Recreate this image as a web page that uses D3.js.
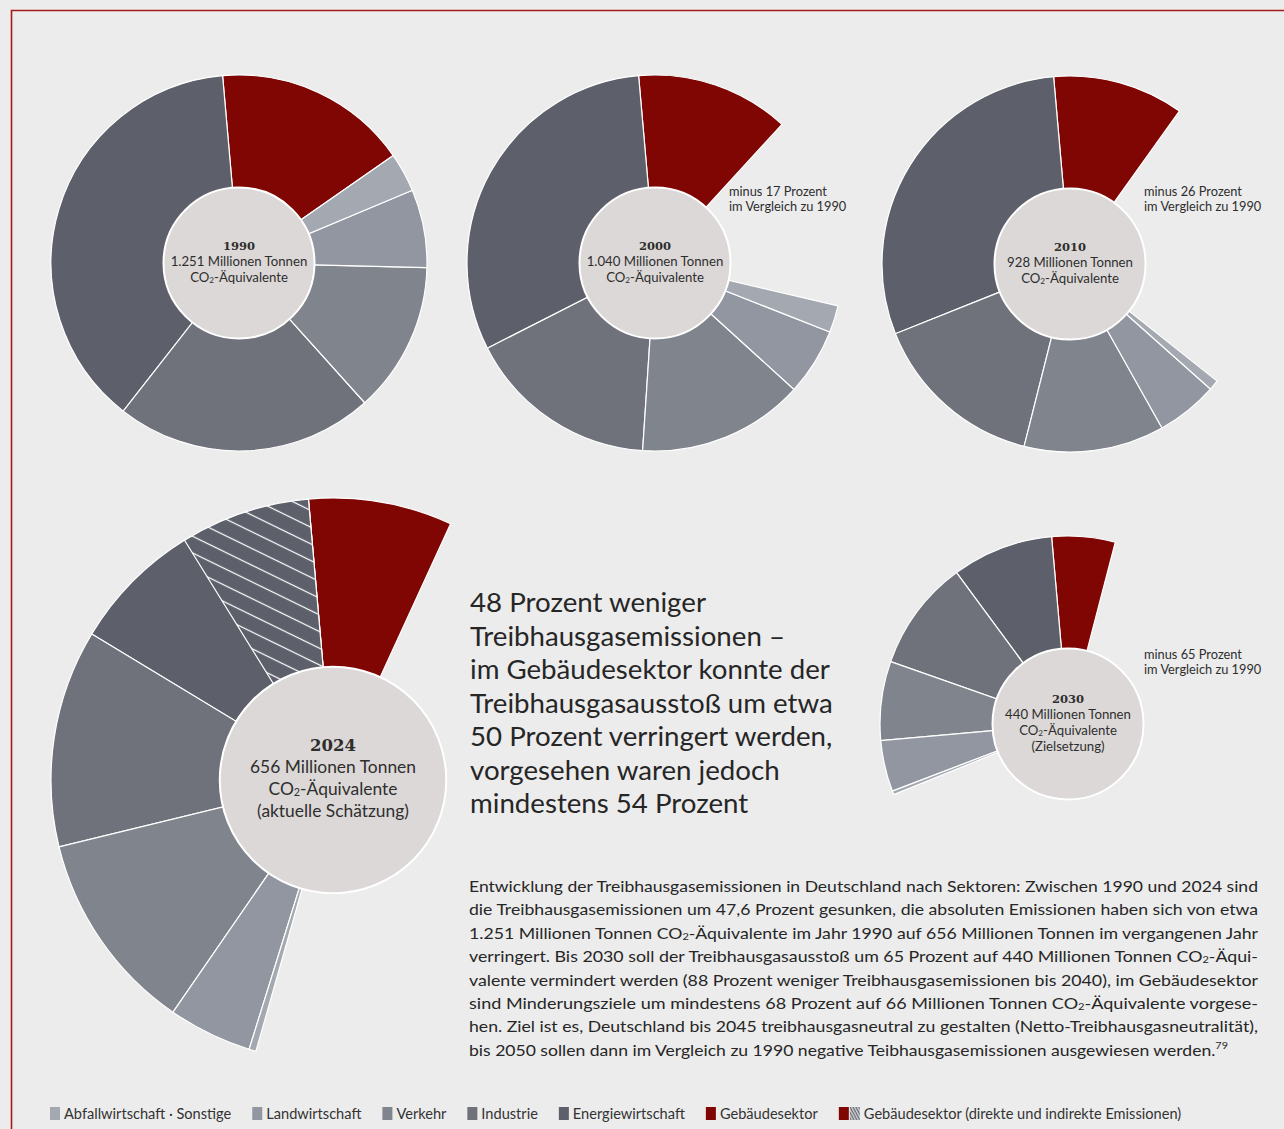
<!DOCTYPE html>
<html>
<head>
<meta charset="utf-8">
<title>Treibhausgasemissionen nach Sektoren</title>
<script src="https://cdn.jsdelivr.net/npm/d3@7/dist/d3.min.js"></script>
<style>
  body { margin: 0; background: #ececec; }
  svg { display: block; font-family: Lato, 'Open Sans', sans-serif; }
</style>
</head>
<body>
<svg id="chart" width="1284" height="1129"></svg>
<script>
// sectors, the order in which they run counter-clockwise from the top (Gebäude runs clockwise)
const sectors = ["Abfallwirtschaft · Sonstige", "Landwirtschaft", "Verkehr", "Industrie", "Energiewirtschaft", "Gebäudesektor"];
const years = ["1990", "2000", "2010", "2024", "2030"];

// Mio. t CO2-Äquivalente
const abfall = [42, 29, 11, 5, 4];
const landwirtschaft = [84, 72, 66, 60, 55];
const verkehr = [162, 179, 151, 145, 85];
const industrie = [278, 206, 188, 156, 119];
const energie = [476, 389, 371, 187, 109];
const gebaeude = [209, 165, 141, 103, 68];
const gebaeudeIndirekt = [0, 0, 0, 93, 0];   // hatched part inside Energiewirtschaft

const totals = ["1.251", "1.040", "928", "656", "440"];
const extraLabel = ["", "", "", "(aktuelle Schätzung)", "(Zielsetzung)"];
const notes = ["", "minus 17 Prozent", "minus 26 Prozent", "", "minus 65 Prozent"];

const headline = [
    "48 Prozent weniger",
    "Treibhausgasemissionen –",
    "im Gebäudesektor konnte der",
    "Treibhausgasausstoß um etwa",
    "50 Prozent verringert werden,",
    "vorgesehen waren jedoch",
    "mindestens 54 Prozent"
];
const paragraph = [
    "Entwicklung der Treibhausgasemissionen in Deutschland nach Sektoren: Zwischen 1990 und 2024 sind",
    "die Treibhausgasemissionen um 47,6 Prozent gesunken, die absoluten Emissionen haben sich von etwa",
    "1.251 Millionen Tonnen CO2-Äquivalente im Jahr 1990 auf 656 Millionen Tonnen im vergangenen Jahr",
    "verringert. Bis 2030 soll der Treibhausgasausstoß um 65 Prozent auf 440 Millionen Tonnen CO2-Äqui-",
    "valente vermindert werden (88 Prozent weniger Treibhausgasemissionen bis 2040), im Gebäudesektor",
    "sind Minderungsziele um mindestens 68 Prozent auf 66 Millionen Tonnen CO2-Äquivalente vorgese-",
    "hen. Ziel ist es, Deutschland bis 2045 treibhausgasneutral zu gestalten (Netto-Treibhausgasneutralität),",
    "bis 2050 sollen dann im Vergleich zu 1990 negative Teibhausgasemissionen ausgewiesen werden."
];
const footnote = "79";
const legendLabels = sectors.concat(["Gebäudesektor (direkte und indirekte Emissionen)"]);

// ---- drawing ----
const svg = d3.select("#chart");
const color = d3.scaleOrdinal(sectors, ["#a4a9b1", "#9196a0", "#80848d", "#6f727b", "#5d606a", "#800604"]);
const series = [abfall, landwirtschaft, verkehr, industrie, energie, gebaeude];

// whole circle = emissions of 1990
const base = d3.sum(series, s => s[0]);
const angle = d3.scaleLinear().domain([0, base]).range([0, 2 * Math.PI]);
const anchor = -5 * Math.PI / 180;

const charts = [
    { cx: 239, cy: 263, k: 1, nx: 729, ny: 196 },
    { cx: 655, cy: 263, k: 1, nx: 729, ny: 196 },
    { cx: 1070, cy: 264, k: 1, nx: 1144, ny: 196 },
    { cx: 333, cy: 780, k: 1.5, nx: 0, ny: 0 },
    { cx: 1068, cy: 724, k: 1, nx: 1144, ny: 659 }
];

const defs = svg.append("defs");
const hatch = defs.append("pattern").attr("id", "hatch")
    .attr("patternUnits", "userSpaceOnUse").attr("width", 15).attr("height", 15)
    .attr("patternTransform", "rotate(26)");
hatch.append("rect").attr("width", 15).attr("height", 15).attr("fill", color("Energiewirtschaft"));
hatch.append("line").attr("x1", 0).attr("x2", 15).attr("y1", 7.5).attr("y2", 7.5)
    .attr("stroke", "#fff").attr("stroke-width", 1.2);
const hatchSmall = defs.append("pattern").attr("id", "hatchSmall")
    .attr("patternUnits", "userSpaceOnUse").attr("width", 2.6).attr("height", 2.6)
    .attr("patternTransform", "rotate(62)");
hatchSmall.append("rect").attr("width", 2.6).attr("height", 2.6).attr("fill", "#cfd0d3");
hatchSmall.append("line").attr("x1", 0).attr("x2", 2.6).attr("y1", 0.6).attr("y2", 0.6)
    .attr("stroke", "#5d606a").attr("stroke-width", 1.1);

// red frame line
svg.append("path").attr("d", "M11.5,1129V10.5H1284")
    .attr("fill", "none").attr("stroke", "#a8191a").attr("stroke-width", 1.6);

// writes a string, with the 2 of "CO2" set small
function co2Text(sel, str) {
    str.split("CO2").forEach(function (part, i) {
        if (i > 0) {
            sel.append("tspan").text("CO");
            sel.append("tspan").attr("font-size", "62%").attr("baseline-shift", "-8%").text("2");
        }
        if (part) sel.append("tspan").text(part);
    });
}

const R = 188, r0 = 75.5;

years.forEach(function (year, yi) {
    const c = charts[yi];
    const g = svg.append("g").attr("transform", `translate(${c.cx},${c.cy})`);
    const arc = d3.arc().innerRadius(0).outerRadius(R * c.k);

    // slices: Gebäude clockwise from the anchor, all others counter-clockwise
    const slices = [];
    slices.push({ key: "Gebäudesektor", start: anchor, end: anchor + angle(gebaeude[yi]) });
    let pos = anchor;
    for (let s = 4; s >= 0; s--) {
        const v = series[s][yi];
        slices.push({ key: sectors[s], start: pos - angle(v), end: pos });
        pos -= angle(v);
    }

    g.selectAll("path.slice")
        .data(slices)
        .join("path")
        .attr("class", "slice")
        .attr("d", d => arc({ startAngle: d.start, endAngle: d.end }))
        .attr("fill", d => color(d.key))
        .attr("stroke", "#fff")
        .attr("stroke-width", 1.2)
        .attr("stroke-linejoin", "round");

    if (gebaeudeIndirekt[yi] > 0) {
        g.append("path")
            .attr("d", arc({ startAngle: anchor - angle(gebaeudeIndirekt[yi]), endAngle: anchor }))
            .attr("fill", "url(#hatch)")
            .attr("stroke", "#fff")
            .attr("stroke-width", 1.2);
    }

    g.append("circle")
        .attr("r", r0 * c.k)
        .attr("fill", "#dcd8d7")
        .attr("stroke", "#fff")
        .attr("stroke-width", 2);

    // center label
    const big = c.k > 1;
    const lh = big ? 21.7 : 15.8;
    const lines = [year, totals[yi] + " Millionen Tonnen", "CO2-Äquivalente"];
    if (extraLabel[yi]) lines.push(extraLabel[yi]);
    lines.forEach(function (t, i) {
        const txt = g.append("text")
            .attr("text-anchor", "middle")
            .attr("y", (i - (lines.length - 1) / 2) * lh + (big ? 4 : 3))
            .attr("fill", "#2e2e2e");
        if (i === 0) {
            txt.attr("font-family", "'DejaVu Serif', serif").attr("font-weight", "bold")
                .attr("font-size", big ? 16.5 : 11.5).text(t);
        } else {
            txt.attr("font-size", big ? 17.4 : 13.2);
            co2Text(txt, t);
        }
    });

    if (notes[yi]) {
        const note = svg.append("text").attr("x", c.nx).attr("y", c.ny)
            .attr("font-size", 12.8).attr("fill", "#2e2e2e");
        note.append("tspan").attr("x", c.nx).text(notes[yi]);
        note.append("tspan").attr("x", c.nx).attr("dy", 15).text("im Vergleich zu 1990");
    }
});

// headline, fitted to the width of the widest line
const head = svg.append("g").attr("fill", "#262626").attr("font-size", 26);
const headText = head.selectAll("text").data(headline).join("text")
    .attr("x", 470)
    .attr("y", (d, i) => 612 + i * 33.5)
    .text(d => d);
const widest = d3.max(headText.nodes(), n => n.getComputedTextLength());
head.attr("font-size", 26 * 363 / widest);

// paragraph, justified
paragraph.forEach(function (line, i) {
    const t = svg.append("text")
        .attr("x", 469)
        .attr("y", 892 + i * 23.4)
        .attr("font-size", 16)
        .attr("fill", "#262626");
    co2Text(t, line);
    if (i < paragraph.length - 1) {
        t.attr("textLength", 789).attr("lengthAdjust", "spacingAndGlyphs");
    } else {
        t.append("tspan").attr("font-size", "62%").attr("dy", -7).text(footnote);
        t.attr("textLength", 759).attr("lengthAdjust", "spacingAndGlyphs");
    }
});

// legend
let lx = 50;
legendLabels.forEach(function (label, i) {
    const last = i === legendLabels.length - 1;
    svg.append("rect").attr("x", lx).attr("y", 1107).attr("width", 10).attr("height", 13)
        .attr("fill", last ? color("Gebäudesektor") : color(label));
    if (last) {
        lx += 11;
        svg.append("rect").attr("x", lx).attr("y", 1107).attr("width", 10).attr("height", 13)
            .attr("fill", "url(#hatchSmall)");
    }
    const t = svg.append("text").attr("x", lx + 14).attr("y", 1119)
        .attr("font-size", 14.6).attr("fill", "#333").text(label);
    lx += 14 + t.node().getComputedTextLength() + 21;
});
</script>
</body>
</html>
